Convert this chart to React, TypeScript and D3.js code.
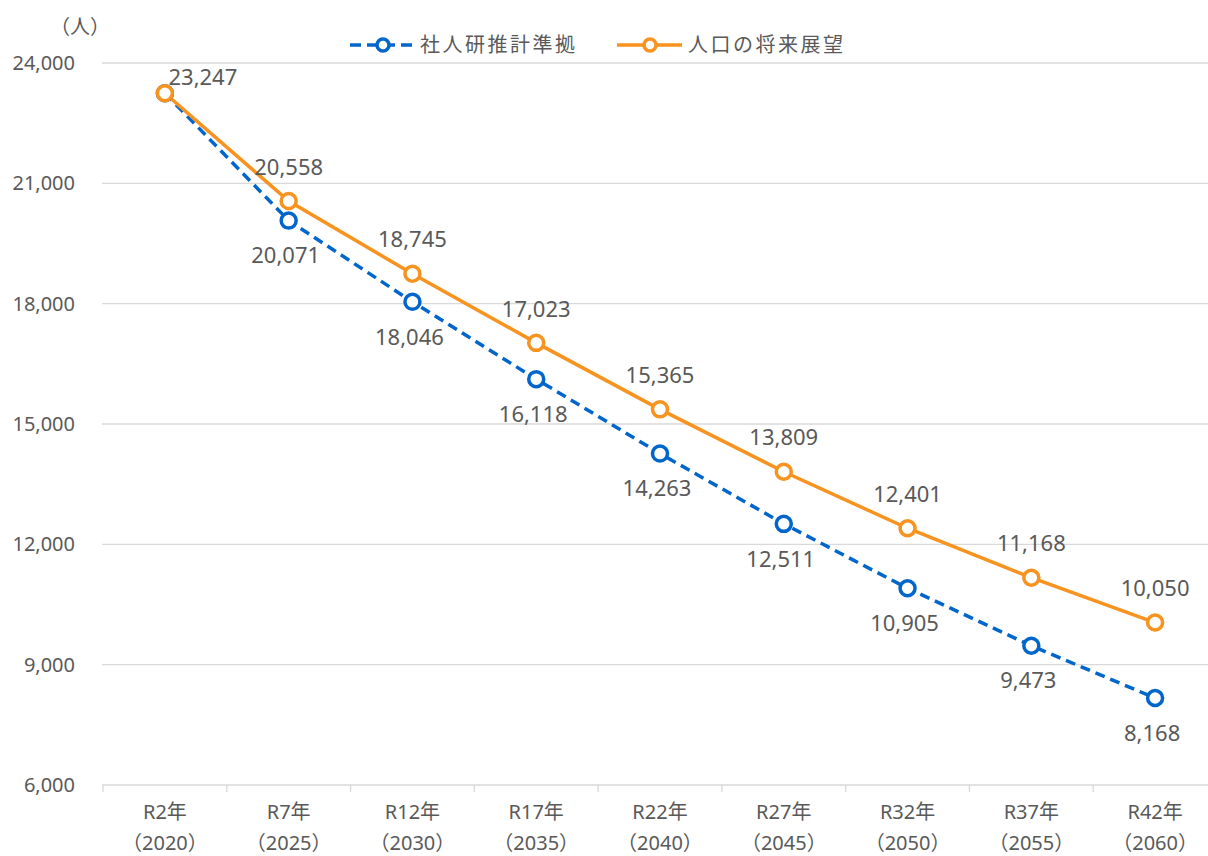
import React from "react";
import * as d3 from "d3";

const categories = ["R2年", "R7年", "R12年", "R17年", "R22年", "R27年", "R32年", "R37年", "R42年"];
const years = ["2020", "2025", "2030", "2035", "2040", "2045", "2050", "2055", "2060"];
const ipssValues = [23247, 20071, 18046, 16118, 14263, 12511, 10905, 9473, 8168];
const visionValues = [23247, 20558, 18745, 17023, 15365, 13809, 12401, 11168, 10050];
const yTicks = [6000, 9000, 12000, 15000, 18000, 21000, 24000];
const seriesNames = ["社人研推計準拠", "人口の将来展望"];

const W = 1208;
const H = 856;
const FONT = "'Noto Sans', 'Noto Sans CJK JP', sans-serif";
const BLUE = "#0066CC";
const ORANGE = "#F7931E";
const TEXT = "#595959";

export default function App() {
  const x = d3.scaleBand<string>().domain(categories).range([103, 1217]);
  const y = d3.scaleLinear().domain([6000, 24000]).range([785, 63]);
  const cx = (i: number) => (x(categories[i]) as number) + x.bandwidth() / 2;
  const line = d3
    .line<number>()
    .x((_, i) => cx(i))
    .y((d) => y(d));
  const fmt = d3.format(",");

  return (
    <svg
      width={W}
      height={H}
      style={{ position: "absolute", left: 0, top: 0, background: "#fff" }}
      fontFamily={FONT}
    >
      {yTicks.map((t) => (
        <line key={t} x1={102} x2={W} y1={y(t)} y2={y(t)} stroke="#D9D9D9" strokeWidth={1.3} />
      ))}
      {yTicks.map((t) => (
        <text key={"yl" + t} x={75} y={y(t)} dy="0.35em" textAnchor="end" fontSize={20} fill={TEXT}>
          {fmt(t)}
        </text>
      ))}
      <text x={80} y={27} dy="0.35em" textAnchor="middle" fontSize={20} fill={TEXT}>
        （人）
      </text>
      {categories.map((c) => (
        <line
          key={"xt" + c}
          x1={x(c) as number}
          x2={x(c) as number}
          y1={785}
          y2={792}
          stroke="#D9D9D9"
          strokeWidth={1.3}
        />
      ))}
      {categories.map((c, i) => (
        <g key={"xl" + c}>
          <text x={cx(i)} y={812} dy="0.35em" textAnchor="middle" fontSize={20} fill={TEXT}>
            {c}
          </text>
          <text x={cx(i)} y={843} dy="0.35em" textAnchor="middle" fontSize={20} fill={TEXT}>
            {"（" + years[i] + "）"}
          </text>
        </g>
      ))}
      <path d={line(ipssValues) as string} fill="none" stroke={BLUE} strokeWidth={3.5} strokeDasharray="10,6" />
      <path d={line(visionValues) as string} fill="none" stroke={ORANGE} strokeWidth={3.5} />
      {ipssValues.map((v, i) => (
        <circle key={"bc" + i} cx={cx(i)} cy={y(v)} r={7.5} fill="#fff" stroke={BLUE} strokeWidth={3.5} />
      ))}
      {visionValues.map((v, i) => (
        <circle key={"oc" + i} cx={cx(i)} cy={y(v)} r={7.5} fill="#fff" stroke={ORANGE} strokeWidth={3.5} />
      ))}
      {visionValues.map((v, i) => (
        <text
          key={"ol" + i}
          x={i === 0 ? cx(i) + 38 : cx(i)}
          y={i === 0 ? y(v) - 16 : y(v) - 34}
          dy="0.35em"
          textAnchor="middle"
          fontSize={22}
          fill={TEXT}
        >
          {fmt(v)}
        </text>
      ))}
      {ipssValues.map((v, i) =>
        i === 0 ? null : (
          <text key={"bl" + i} x={cx(i) - 3} y={y(v) + 35} dy="0.35em" textAnchor="middle" fontSize={22} fill={TEXT}>
            {fmt(v)}
          </text>
        )
      )}
      <g>
        <line x1={350} x2={414} y1={45} y2={45} stroke={BLUE} strokeWidth={3.5} strokeDasharray="11,6" />
        <circle cx={383} cy={45} r={6} fill="#fff" stroke={BLUE} strokeWidth={3.5} />
        <text x={420} y={45} dy="0.35em" fontSize={20} letterSpacing={2.5} fill={TEXT}>
          {seriesNames[0]}
        </text>
        <line x1={617} x2={682} y1={45} y2={45} stroke={ORANGE} strokeWidth={3.5} />
        <circle cx={650} cy={45} r={6} fill="#fff" stroke={ORANGE} strokeWidth={3.5} />
        <text x={688} y={45} dy="0.35em" fontSize={20} letterSpacing={2.5} fill={TEXT}>
          {seriesNames[1]}
        </text>
      </g>
    </svg>
  );
}
